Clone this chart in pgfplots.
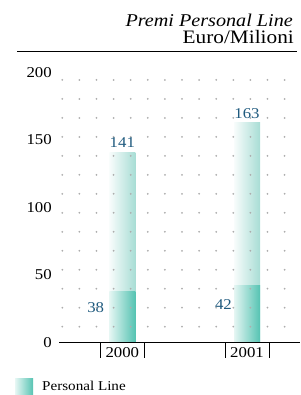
\documentclass[border=0pt]{standalone}
\usepackage{pgfplots}
\pgfplotsset{compat=1.18}
\usepackage{fontspec}
\setmainfont[FakeStretch=1.12]{Liberation Serif}
\definecolor{lightteal}{HTML}{A8DDD5}
\definecolor{darkteal}{HTML}{55C3B2}
\definecolor{valblue}{HTML}{1F5A7E}
\definecolor{dotgray}{HTML}{ADADAD}
\begin{document}
\begin{tikzpicture}
\begin{axis}[
  at={(59pt,52.5pt)}, anchor=south west,
  scale only axis, width=241pt, height=270pt,
  xmin=-0.5076, xmax=1.425, ymin=0, ymax=200,
  clip=false,
  axis on top,
  separate axis lines,
  axis x line*=bottom, axis y line*=left,
  x axis line style={black, line width=0.9pt, -},
  y axis line style={draw=none},
  tick style={draw=none}, major tick length=0pt,
  ytick={0,50,100,150,200},
  yticklabel style={anchor=east, inner sep=0pt, xshift=-7pt, font=\fontsize{15}{17}\selectfont},
  xtick={0,1}, xticklabels={2000,2001},
  xticklabel style={anchor=north, inner sep=0pt, yshift=-4.5pt, font=\fontsize{15}{17}\selectfont},
  /pgf/number format/assume math mode=true,
  minor xtick={-0.4812,-0.3441,-0.2070,-0.0698,0.0673,0.2044,0.3416,0.4787,0.6158,0.7530,0.8901,1.0272,1.1643,1.3015},
  xminorgrids=true,
  minor grid style={draw=dotgray, line width=2pt, line cap=round, dash pattern=on 0pt off 18.98pt, dash phase=3.18pt},
  ybar, bar width=26pt,
  tallbar/.style={ybar, bar shift=0pt, draw=none, left color=white!92!lightteal, right color=lightteal,
    nodes near coords, every node near coord/.append style={anchor=south, inner sep=0pt, yshift=4pt,
    text=valblue, font=\fontsize{15}{17}\selectfont}},
  lowbar/.style={ybar, bar shift=0pt, draw=none, left color=white!85!darkteal, right color=darkteal},
  legend style={at={(-0.1826,-0.163)}, anchor=west, draw=none, fill=none, inner sep=0pt,
    font=\fontsize{13.5}{15}\selectfont, legend cell align=left,
    /tikz/every odd column/.append style={column sep=7pt}},
  legend image code/.code={\fill[left color=white!85!darkteal, right color=darkteal] (0pt,-8.5pt) rectangle (18pt,8.5pt);},
]
\addplot[tallbar, forget plot] coordinates {(0,141)};
\addplot[tallbar, forget plot] coordinates {(1,163)};
\addplot[lowbar] coordinates {(0,38)};
\addlegendentry{Personal Line}
\addplot[lowbar, forget plot] coordinates {(1,42)};
\node[anchor=east, inner sep=0pt, text=valblue, font=\fontsize{15}{17}\selectfont, xshift=-18pt] at (axis cs:0,25.5) {38};
\node[anchor=east, inner sep=0pt, text=valblue, font=\fontsize{15}{17}\selectfont, xshift=-15pt] at (axis cs:1,27.8) {42};
\draw[line width=0.9pt] (axis cs:-0.176,0) -- ++(0pt,-16pt);
\draw[line width=0.9pt] (axis cs:0.176,0) -- ++(0pt,-16pt);
\draw[line width=0.9pt] (axis cs:0.824,0) -- ++(0pt,-16pt);
\draw[line width=0.9pt] (axis cs:1.176,0) -- ++(0pt,-16pt);
\end{axis}
\node[anchor=base east, inner sep=0pt, font=\fontsize{18}{20}\selectfont\itshape] at (293pt,368pt) {Premi Personal Line};
\node[anchor=base east, inner sep=0pt, font=\fontsize{19}{21}\selectfont] at (294pt,351pt) {Euro/Milioni};
\draw[line width=1pt] (17pt,343.5pt) -- (297pt,343.5pt);
\pgfresetboundingbox
\useasboundingbox (0,0) rectangle (300pt,395pt);
\end{tikzpicture}
\end{document}
